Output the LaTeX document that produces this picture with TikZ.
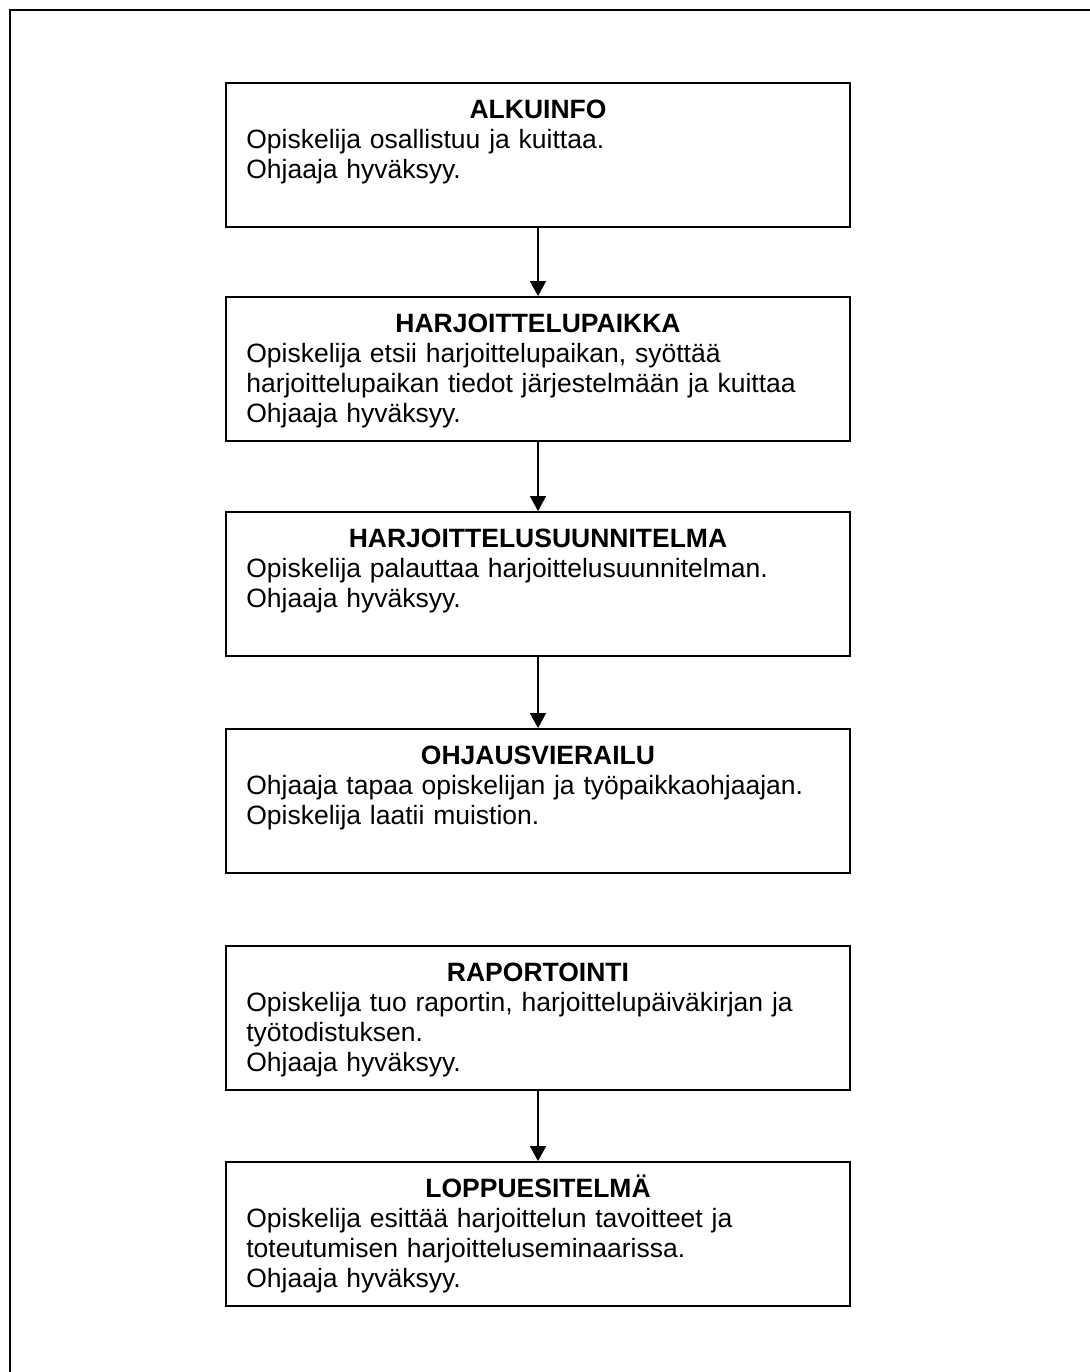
\documentclass[tikz,border=0pt]{standalone}
\usepackage{fontspec}
\setmainfont{Liberation Sans}
\usetikzlibrary{arrows.meta,calc}
\begin{document}
\begin{tikzpicture}[x=1pt,y=-1pt,
  stagebox/.style={draw=black,line width=1.8pt,minimum width=624pt,minimum height=144pt,inner sep=0pt},
  titletext/.style={anchor=base,inner sep=0pt,font=\fontsize{26.5}{30}\selectfont\bfseries},
  bodytext/.style={anchor=base west,inner sep=0pt,text width=600pt,align=left,font=\fontsize{26.5}{30}\selectfont},
  flow/.style={line width=1.3pt,-{Triangle[width=16pt,length=15pt]}},
  frame/.style={line width=1.8pt}]
\useasboundingbox (0,0) rectangle (1089,1372);
\fill[white] (0,0) rectangle (1089,1372);
% outer frame (open at right and bottom)
\draw[frame] (10,1380) -- (10,10) -- (1095,10);

% stage boxes
\node[stagebox] (s1) at (538,155) {};
\node[stagebox] (s2) at (538,369) {};
\node[stagebox] (s3) at (538,584) {};
\node[stagebox] (s4) at (538,801) {};
\node[stagebox] (s5) at (538,1018) {};
\node[stagebox] (s6) at (538,1234) {};

% titles
\node[titletext] (t1) at ($(s1.north)+(0,36)$) {ALKUINFO};
\node[titletext] (t2) at ($(s2.north)+(0,36)$) {HARJOITTELUPAIKKA};
\node[titletext] (t3) at ($(s3.north)+(0,36)$) {HARJOITTELUSUUNNITELMA};
\node[titletext] (t4) at ($(s4.north)+(0,36)$) {OHJAUSVIERAILU};
\node[titletext] (t5) at ($(s5.north)+(0,36)$) {RAPORTOINTI};
\node[titletext] (t6) at ($(s6.north)+(0,36)$) {LOPPUESITELMÄ};

% descriptions
\node[bodytext] (d1) at ($(s1.north west)+(21,66)$)
  {Opiskelija osallistuu ja kuittaa.\\Ohjaaja hyväksyy.};
\node[bodytext] (d2) at ($(s2.north west)+(21,66)$)
  {Opiskelija etsii harjoittelupaikan, syöttää\\harjoittelupaikan tiedot järjestelmään ja kuittaa\\Ohjaaja hyväksyy.};
\node[bodytext] (d3) at ($(s3.north west)+(21,66)$)
  {Opiskelija palauttaa harjoittelusuunnitelman.\\Ohjaaja hyväksyy.};
\node[bodytext] (d4) at ($(s4.north west)+(21,66)$)
  {Ohjaaja tapaa opiskelijan ja työpaikkaohjaajan.\\Opiskelija laatii muistion.};
\node[bodytext] (d5) at ($(s5.north west)+(21,66)$)
  {Opiskelija tuo raportin, harjoittelupäiväkirjan ja\\työtodistuksen.\\Ohjaaja hyväksyy.};
\node[bodytext] (d6) at ($(s6.north west)+(21,66)$)
  {Opiskelija esittää harjoittelun tavoitteet ja\\toteutumisen harjoitteluseminaarissa.\\Ohjaaja hyväksyy.};

% flow arrows
\draw[flow] (s1.south) -- (s2.north);
\draw[flow] (s2.south) -- (s3.north);
\draw[flow] (s3.south) -- (s4.north);
\draw[flow] (s5.south) -- (s6.north);
\end{tikzpicture}
\end{document}
